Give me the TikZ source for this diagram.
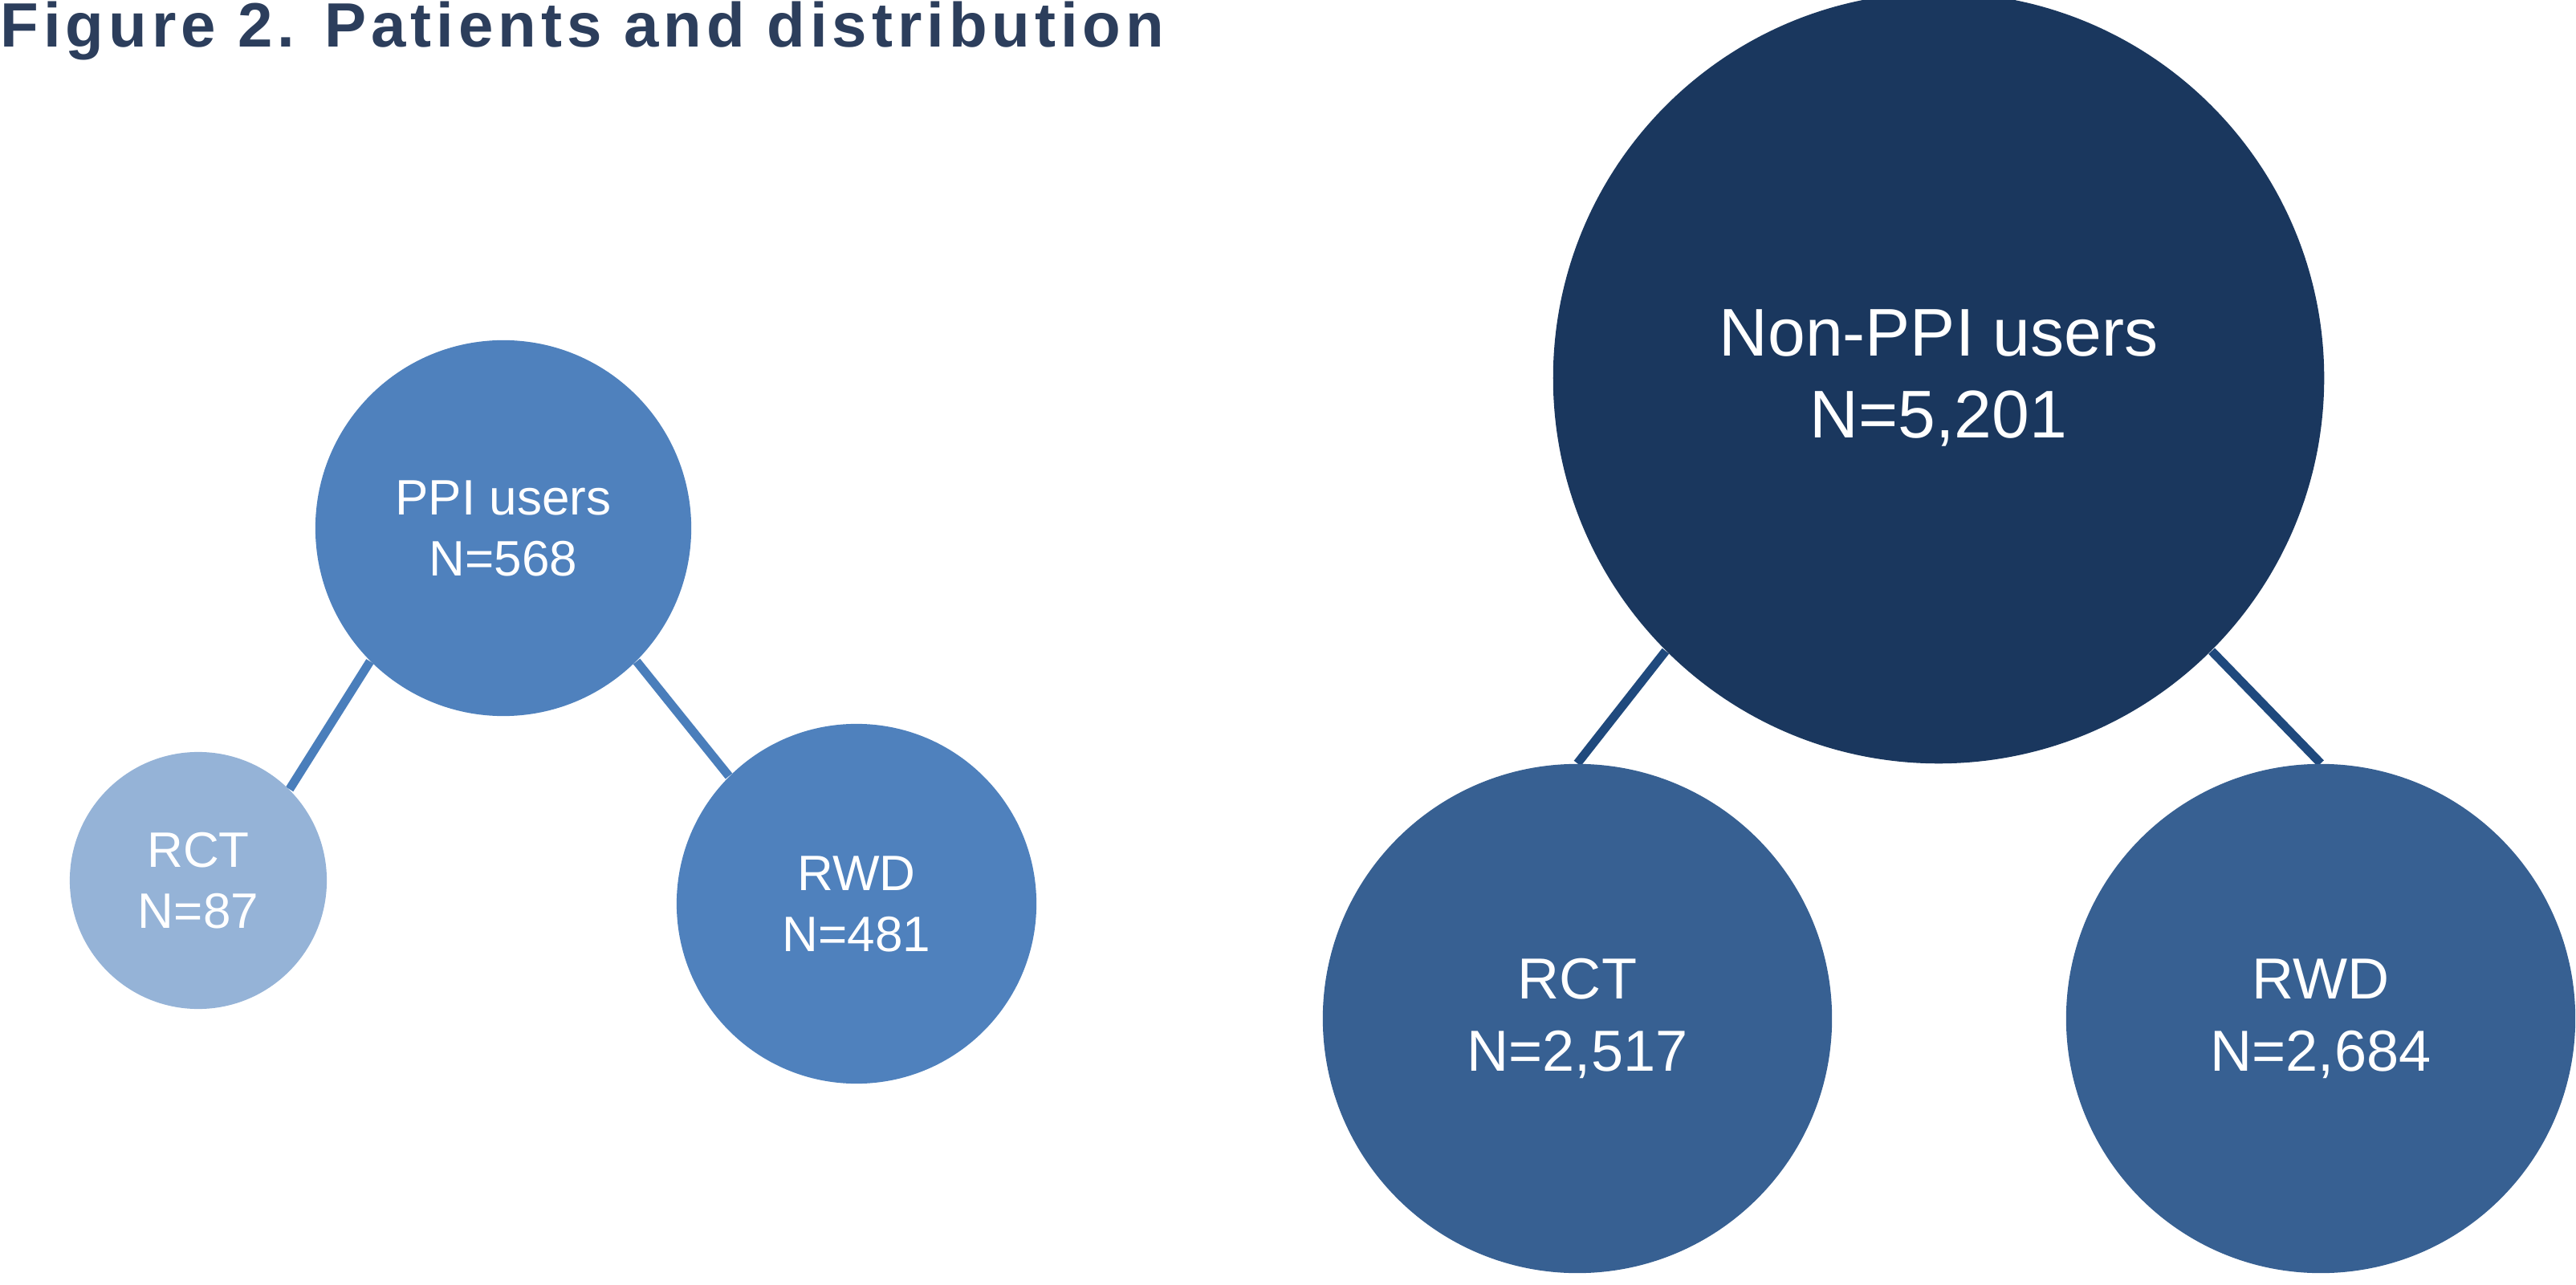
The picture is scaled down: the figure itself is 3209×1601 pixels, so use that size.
\documentclass[tikz,border=0pt]{standalone}
\usepackage{fontspec}
\setmainfont{Liberation Sans}
\newfontfamily\titlefont[LetterSpace=7.6]{Liberation Sans}
\usetikzlibrary{backgrounds}
\definecolor{titlec}{HTML}{2C3E5C}
\definecolor{ppi}{HTML}{4F81BD}
\definecolor{ppilight}{HTML}{95B3D7}
\definecolor{ppiline}{HTML}{4A7EBB}
\definecolor{nonppi}{HTML}{1A375E}
\definecolor{nonchild}{HTML}{376092}
\definecolor{nonline}{HTML}{1F497D}
\begin{document}
\begin{tikzpicture}[x=0.01cm,y=-0.01cm,
  bubble/.style={circle, inner sep=0pt, text=white, align=center},
  smalltxt/.style={font=\fontsize{17.64}{21.6}\selectfont},
  midtxt/.style={font=\fontsize{20.5}{25.6}\selectfont},
  bigtxt/.style={font=\fontsize{23.9}{29}\selectfont},
  link/.style={line width=3.1pt, line cap=butt}]
\useasboundingbox (0,0) rectangle (3209,1601);
\node[anchor=base west, inner sep=0pt, text=titlec, font=\titlefont\bfseries\fontsize{22.2}{26}\selectfont] (title) at (0,59) {Figure 2. Patients and distribution};

\node[bubble, smalltxt, fill=ppi, minimum size=4.68cm] (ppi) at (627,658) {PPI users\\N=568};
\node[bubble, smalltxt, fill=ppilight, minimum size=3.20cm] (rctl) at (247,1097) {RCT\\N=87};
\node[bubble, smalltxt, fill=ppi, minimum size=4.48cm] (rwdl) at (1067,1126) {RWD\\N=481};

\node[bubble, bigtxt, fill=nonppi, minimum size=9.60cm] (non) at (2415,471) {Non-PPI users\\N=5,201};
\node[bubble, midtxt, fill=nonchild, minimum size=6.34cm] (rctr) at (1965,1269) {RCT\\N=2,517};
\node[bubble, midtxt, fill=nonchild, minimum size=6.34cm] (rwdr) at (2891,1269) {RWD\\N=2,684};

\begin{scope}[on background layer]
\draw[link, ppiline] (ppi.225) -- (rctl.45);
\draw[link, ppiline] (ppi.-45) -- (rwdl.135);
\draw[link, nonline] (non.225) -- (rctr.90);
\draw[link, nonline] (non.-45) -- (rwdr.90);
\end{scope}
\end{tikzpicture}
\end{document}
